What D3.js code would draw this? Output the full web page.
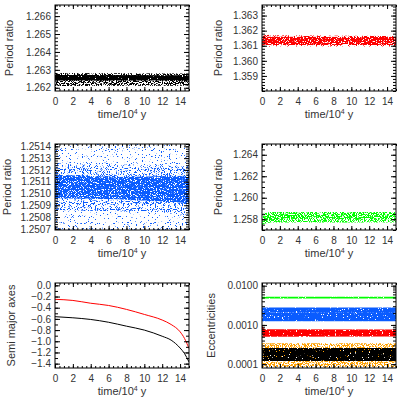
<!DOCTYPE html>
<html>
<head>
<meta charset="utf-8">
<script src="https://cdn.jsdelivr.net/npm/d3@7"></script>
<style>
  body { margin: 0; background: #fff; }
  text { font-family: "Liberation Sans", Arial, sans-serif; fill: #333; }
</style>
</head>
<body>
<svg width="402" height="399"></svg>
<script>
// ---- data ----
var timeTicks = [0, 2, 4, 6, 8, 10, 12, 14];

// panel 1: black period ratio cloud
var blackRatioT = [0, 15];
var blackRatioLo = [1.26210, 1.26212];
var blackRatioHi = [1.26282, 1.26280];
var blackRatioCoreLo = [1.26240, 1.26240];
var blackRatioCoreHi = [1.26272, 1.26270];
var ratio1Ticks = [1.262, 1.263, 1.264, 1.265, 1.266];

// panel 2: red period ratio cloud
var redRatioT = [0, 0.3, 1, 15];
var redRatioLo = [1.36090, 1.36092, 1.36095, 1.36095];
var redRatioHi = [1.36200, 1.36180, 1.36170, 1.36165];
var redRatioCoreLo = [1.36105, 1.36105, 1.36105, 1.36105];
var redRatioCoreHi = [1.36165, 1.36160, 1.36160, 1.36158];
var ratio2Ticks = [1.359, 1.360, 1.361, 1.362, 1.363];

// panel 3: blue period ratio cloud
var blueRatioT = [0, 7, 15];
var blueRatioLo = [1.25069, 1.25069, 1.25069];
var blueRatioHi = [1.25142, 1.25142, 1.25142];
var blueRatioMidLo = [1.25086, 1.25085, 1.25082];
var blueRatioMidHi = [1.25125, 1.25124, 1.25124];
var blueRatioCoreLo = [1.25096, 1.25095, 1.25092];
var blueRatioCoreHi = [1.25116, 1.25114, 1.25115];
var ratio3Ticks = [1.2507, 1.2508, 1.2509, 1.2510, 1.2511, 1.2512, 1.2513, 1.2514];

// panel 4: green period ratio cloud
var greenRatioT = [0, 0.3, 1, 15];
var greenRatioLo = [1.25735, 1.25760, 1.25770, 1.25770];
var greenRatioHi = [1.25840, 1.25860, 1.25868, 1.25868];
var greenRatioCoreLo = [1.25740, 1.25768, 1.25776, 1.25776];
var greenRatioCoreHi = [1.25830, 1.25855, 1.25862, 1.25862];
var ratio4Ticks = [1.258, 1.260, 1.262, 1.264];

// panel 5: semi major axes
var semiT = [0, 2, 4, 6, 8, 10, 12, 13, 14, 14.5, 15];
var semiRed = [-0.25, -0.27, -0.32, -0.36, -0.43, -0.52, -0.62, -0.70, -0.83, -0.95, -1.13];
var semiBlack = [-0.56, -0.58, -0.61, -0.66, -0.73, -0.80, -0.91, -0.98, -1.12, -1.22, -1.37];
var semiTicks = [0, -0.2, -0.4, -0.6, -0.8, -1.0, -1.2, -1.4];

// panel 6: eccentricity clouds
var eccT = [0, 0.3, 15];
var eccGreenLo = [0.0046, 0.0047, 0.0047];
var eccGreenHi = [0.0052, 0.0052, 0.0052];
var eccBlueLo = [0.00125, 0.00125, 0.00125];
var eccBlueHi = [0.0028, 0.0028, 0.0028];
var eccBlueGapLo = [0.0021, 0.0021, 0.0021];
var eccBlueGapHi = [0.00215, 0.00215, 0.00215];
var eccRedLo = [0.00050, 0.00050, 0.00051];
var eccRedHi = [0.00095, 0.00078, 0.00076];
var eccOrangeLo = [0.000085, 0.000085, 0.000085];
var eccOrangeHi = [0.00034, 0.00034, 0.00034];
var eccBlackLo = [0.00012, 0.00012, 0.00012];
var eccBlackHi = [0.00026, 0.00026, 0.00026];
var eccTicks = [0.0001, 0.001, 0.01];

// ---- layout ----
var svg = d3.select('svg');
var defs = svg.append('defs');

var boxes = [
  {x0: 55, x1: 189, y0: 5, y1: 91},
  {x0: 262, x1: 396, y0: 5, y1: 91},
  {x0: 55, x1: 189, y0: 144, y1: 230},
  {x0: 262, x1: 396, y0: 144, y1: 230},
  {x0: 55, x1: 189, y0: 283, y1: 368},
  {x0: 262, x1: 396, y0: 283, y1: 368}
];

// speckle filters, so the clouds look like dense dots
function speckle(id, seed, thr) {
  var k = 20;
  var f = defs.append('filter').attr('id', id)
    .attr('x', 0).attr('y', 0).attr('width', 1).attr('height', 1)
    .attr('color-interpolation-filters', 'sRGB');
  f.append('feTurbulence').attr('type', 'fractalNoise')
    .attr('baseFrequency', 0.85).attr('numOctaves', 1)
    .attr('seed', seed).attr('result', 'n');
  f.append('feColorMatrix').attr('in', 'n').attr('type', 'matrix')
    .attr('values', '0 0 0 0 0  0 0 0 0 0  0 0 0 0 0  ' + k + ' 0 0 0 ' + (-k * thr))
    .attr('result', 'm');
  f.append('feComposite').attr('in', 'SourceGraphic').attr('in2', 'm').attr('operator', 'in');
}
speckle('sparse', 2, 0.64);
speckle('light', 5, 0.56);
speckle('mid', 7, 0.48);
speckle('dense', 11, 0.40);
speckle('full', 13, 0.30);

function panel(i, yScale, yTicks, minorTicks, fmt, title, titleX) {
  var b = boxes[i];
  var x = d3.scaleLinear().domain([0, 15]).range([b.x0, b.x1]);
  var y = yScale.range([b.y1, b.y0]);
  var g = svg.append('g');

  defs.append('clipPath').attr('id', 'clip' + i)
    .append('rect').attr('x', b.x0).attr('y', b.y0)
    .attr('width', b.x1 - b.x0).attr('height', b.y1 - b.y0);
  var plot = g.append('g').attr('clip-path', 'url(#clip' + i + ')');

  var minorX = d3.range(0, 15.01, 0.5);
  function axes(sel) {
    sel.append('g').attr('transform', 'translate(0,' + b.y1 + ')')
      .call(d3.axisBottom(x).tickValues(minorX).tickSize(-2).tickFormat(''));
    sel.append('g').attr('transform', 'translate(0,' + b.y1 + ')')
      .call(d3.axisBottom(x).tickValues(timeTicks).tickSize(-4).tickPadding(7).tickFormat(d3.format('d')));
    sel.append('g').attr('transform', 'translate(0,' + b.y0 + ')')
      .call(d3.axisTop(x).tickValues(minorX).tickSize(-2).tickFormat(''));
    sel.append('g').attr('transform', 'translate(0,' + b.y0 + ')')
      .call(d3.axisTop(x).tickValues(timeTicks).tickSize(-4).tickFormat(''));
    sel.append('g').attr('transform', 'translate(' + b.x0 + ',0)')
      .call(d3.axisLeft(y).tickValues(minorTicks).tickSize(-3).tickFormat(''));
    sel.append('g').attr('transform', 'translate(' + b.x0 + ',0)')
      .call(d3.axisLeft(y).tickValues(yTicks).tickSize(-5).tickPadding(4).tickFormat(fmt));
    sel.append('g').attr('transform', 'translate(' + b.x1 + ',0)')
      .call(d3.axisRight(y).tickValues(minorTicks).tickSize(-3).tickFormat(''));
    sel.append('g').attr('transform', 'translate(' + b.x1 + ',0)')
      .call(d3.axisRight(y).tickValues(yTicks).tickSize(-5).tickFormat(''));
    sel.selectAll('.domain').remove();
    sel.selectAll('.tick line').attr('stroke', '#000');
    sel.selectAll('.tick text').attr('font-size', 10).attr('fill', '#333');
  }
  var ax = g.append('g');
  axes(ax);

  g.append('rect').attr('x', b.x0).attr('y', b.y0)
    .attr('width', b.x1 - b.x0).attr('height', b.y1 - b.y0)
    .attr('fill', 'none').attr('stroke', '#000').attr('stroke-width', 1);

  g.append('text').attr('x', (b.x0 + b.x1) / 2).attr('y', b.y1 + 27)
    .attr('text-anchor', 'middle').attr('font-size', 11)
    .text('time/10').append('tspan').attr('font-size', 7).attr('dy', -4).text('4')
    .select(function () { return this.parentNode; })
    .append('tspan').attr('dy', 4).text(' y');

  g.append('text')
    .attr('transform', 'translate(' + titleX + ',' + (b.y0 + b.y1) / 2 + ') rotate(-90)')
    .attr('text-anchor', 'middle').attr('font-size', 11).text(title);

  return {x: x, y: y, plot: plot};
}

function band(p, T, lo, hi, color, filt) {
  var rows = T.map(function (t, k) { return {t: t, lo: lo[k], hi: hi[k]}; });
  var area = d3.area()
    .x(function (d) { return p.x(d.t); })
    .y0(function (d) { return p.y(d.lo); })
    .y1(function (d) { return p.y(d.hi); });
  var path = p.plot.append('path').datum(rows).attr('d', area).attr('fill', color);
  if (filt) path.attr('filter', 'url(#' + filt + ')');
}

function curve(p, T, v, color) {
  var rows = T.map(function (t, k) { return {t: t, v: v[k]}; });
  p.plot.append('path').datum(rows)
    .attr('d', d3.line().curve(d3.curveMonotoneX)
      .x(function (d) { return p.x(d.t); })
      .y(function (d) { return p.y(d.v); }))
    .attr('fill', 'none').attr('stroke', color).attr('stroke-width', 1);
}

var BLACK = '#000000', RED = '#ff0000', BLUE = '#0a5cff', GREEN = '#00ff00', ORANGE = '#ffa000';

// panel 1
var p1 = panel(0, d3.scaleLinear().domain([1.26182, 1.26662]), ratio1Ticks,
  d3.range(1.2620, 1.26662, 0.0002), d3.format('.3f'), 'Period ratio', 13);
band(p1, blackRatioT, blackRatioLo, blackRatioHi, BLACK, 'mid');
band(p1, blackRatioT, blackRatioCoreLo, blackRatioCoreHi, BLACK, 'full');

// panel 2
var p2 = panel(1, d3.scaleLinear().domain([1.3580, 1.3637]), ratio2Ticks,
  d3.range(1.3580, 1.3637, 0.0002), d3.format('.3f'), 'Period ratio', 222);
band(p2, redRatioT, redRatioLo, redRatioHi, RED, 'light');
band(p2, redRatioT, redRatioCoreLo, redRatioCoreHi, RED, 'dense');

// panel 3
var p3 = panel(2, d3.scaleLinear().domain([1.25069, 1.25142]), ratio3Ticks,
  d3.range(1.25070, 1.25142, 0.00002), d3.format('.4f'), 'Period ratio', 11);
band(p3, blueRatioT, blueRatioLo, blueRatioHi, BLUE, 'sparse');
band(p3, blueRatioT, blueRatioMidLo, blueRatioMidHi, BLUE, 'light');
band(p3, blueRatioT, blueRatioCoreLo, blueRatioCoreHi, BLUE, 'dense');

// panel 4
var p4 = panel(3, d3.scaleLinear().domain([1.2570, 1.2650]), ratio4Ticks,
  d3.range(1.2570, 1.2650, 0.0005), d3.format('.3f'), 'Period ratio', 222);
band(p4, greenRatioT, greenRatioLo, greenRatioHi, GREEN, 'mid');
band(p4, greenRatioT, greenRatioCoreLo, greenRatioCoreHi, GREEN, 'light');

// panel 5
var p5 = panel(4, d3.scaleLinear().domain([-1.478, 0.042]), semiTicks,
  d3.range(-1.4, 0.05, 0.1), d3.format('.1f'), 'Semi major axes', 15);
curve(p5, semiT, semiRed, RED);
curve(p5, semiT, semiBlack, BLACK);

// panel 6
var minorLog = [];
[0.0001, 0.001].forEach(function (d) {
  for (var m = 1; m <= 9; m++) minorLog.push(d * m);
});
minorLog.push(0.01);
var p6 = panel(5, d3.scaleLog().domain([0.00008, 0.0117]), eccTicks,
  minorLog, d3.format('.4f'), 'Eccentricities', 215);
band(p6, eccT, eccGreenLo, eccGreenHi, GREEN, 'full');
band(p6, eccT, eccBlueLo, eccBlueHi, BLUE, 'full');
band(p6, eccT, eccBlueGapLo, eccBlueGapHi, '#ffffff', 'mid');
band(p6, eccT, eccRedLo, eccRedHi, RED, 'full');
band(p6, eccT, eccOrangeLo, eccOrangeHi, ORANGE, 'mid');
band(p6, eccT, eccBlackLo, eccBlackHi, BLACK, 'full');
</script>
</body>
</html>
